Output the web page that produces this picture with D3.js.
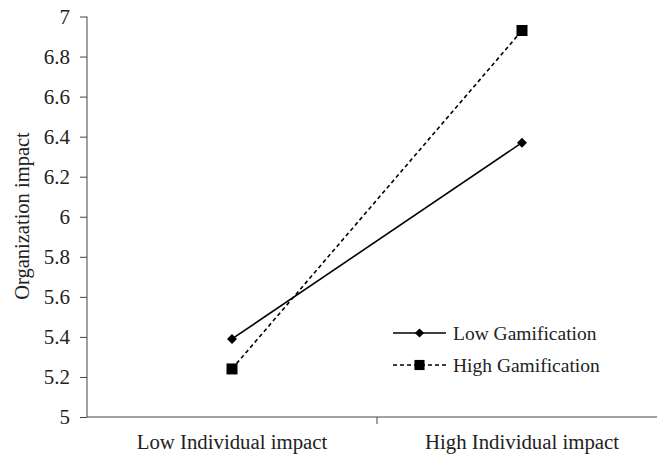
<!DOCTYPE html>
<html><head><meta charset="utf-8">
<script src="https://cdn.jsdelivr.net/npm/d3@7"></script>
<style>body{margin:0;background:#fff}svg{display:block}text{font-family:"Liberation Serif","Times New Roman",serif;fill:#222}</style>
</head><body>
<svg id="c" width="657" height="454"></svg>
<script>
const categories = ["Low Individual impact", "High Individual impact"];
const seriesNames = ["Low Gamification", "High Gamification"];
const lowGamification = [5.39, 6.37];
const highGamification = [5.24, 6.93];
const yTicks = [5, 5.2, 5.4, 5.6, 5.8, 6, 6.2, 6.4, 6.6, 6.8, 7];

(function () {
const svg = d3.select("#c");
const mLeft = 87, mRight = 667, mTop = 16.5, mBottom = 417;
const SERIF = "Liberation Serif";
const x = d3.scaleBand().domain(categories).range([mLeft, mRight]);
const y = d3.scaleLinear().domain([5, 7]).range([mBottom, mTop]);

const ya = svg.append("g").attr("transform", `translate(${mLeft},0)`)
  .call(d3.axisLeft(y).tickValues(yTicks).tickFormat(d => d3.format("~g")(d)).tickSize(7).tickPadding(10));
ya.attr("font-family", SERIF).attr("font-size", 21);
ya.select(".domain").attr("stroke", "#444").attr("d", `M0,${mTop}V${mBottom}`);
ya.selectAll(".tick line").attr("stroke", "#444");
ya.selectAll("text").style("font-family", SERIF).style("font-size", "21px").attr("fill", "#222");

const xa = svg.append("g").attr("transform", `translate(0,${mBottom})`)
  .call(d3.axisBottom(x).tickSize(0).tickPadding(17));
xa.attr("font-family", SERIF).attr("font-size", 21);
xa.select(".domain").attr("stroke", "#444").attr("d", `M${mLeft},0H${mRight}`);
xa.selectAll("text").style("font-family", SERIF).style("font-size", "20.8px").attr("fill", "#222");
svg.append("g").selectAll("line").data(categories.slice(1)).join("line")
  .attr("x1", d => x(d)).attr("x2", d => x(d))
  .attr("y1", mBottom).attr("y2", mBottom + 7).attr("stroke", "#444");

svg.append("text").attr("transform", `translate(29,216) rotate(-90)`)
  .attr("text-anchor", "middle").style("font-family", SERIF).style("font-size", "20.5px").text("Organization impact");

const line = d3.line().x((d, i) => x(categories[i]) + x.bandwidth() / 2).y(d => y(d));
const series = [
  {name: seriesNames[0], values: lowGamification, dash: null, sym: d3.symbolSquare, size: 50, rot: 45},
  {name: seriesNames[1], values: highGamification, dash: "4,3", sym: d3.symbolSquare, size: 121, rot: 0}
];
series.forEach(s => {
  svg.append("path").attr("d", line(s.values)).attr("fill", "none").attr("stroke", "#000")
    .attr("stroke-width", 1.6).attr("stroke-dasharray", s.dash);
  svg.append("g").selectAll("path").data(s.values).join("path")
    .attr("d", d3.symbol().type(s.sym).size(s.size))
    .attr("transform", (d, i) => `translate(${x(categories[i]) + x.bandwidth() / 2},${y(d)}) rotate(${s.rot})`)
    .attr("fill", "#000");
});

const lg = svg.append("g");
series.forEach((s, i) => {
  const ly = 333 + i * 32;
  lg.append("line").attr("x1", 393).attr("x2", 446).attr("y1", ly).attr("y2", ly)
    .attr("stroke", "#000").attr("stroke-width", 1.6).attr("stroke-dasharray", s.dash);
  lg.append("path").attr("d", d3.symbol().type(s.sym).size(s.size * 0.85))
    .attr("transform", `translate(419.5,${ly}) rotate(${s.rot})`).attr("fill", "#000");
  lg.append("text").attr("x", 453).attr("y", ly + 6.5).style("font-family", SERIF).style("font-size", "19.5px").text(s.name);
});
})();
</script>
</body></html>
